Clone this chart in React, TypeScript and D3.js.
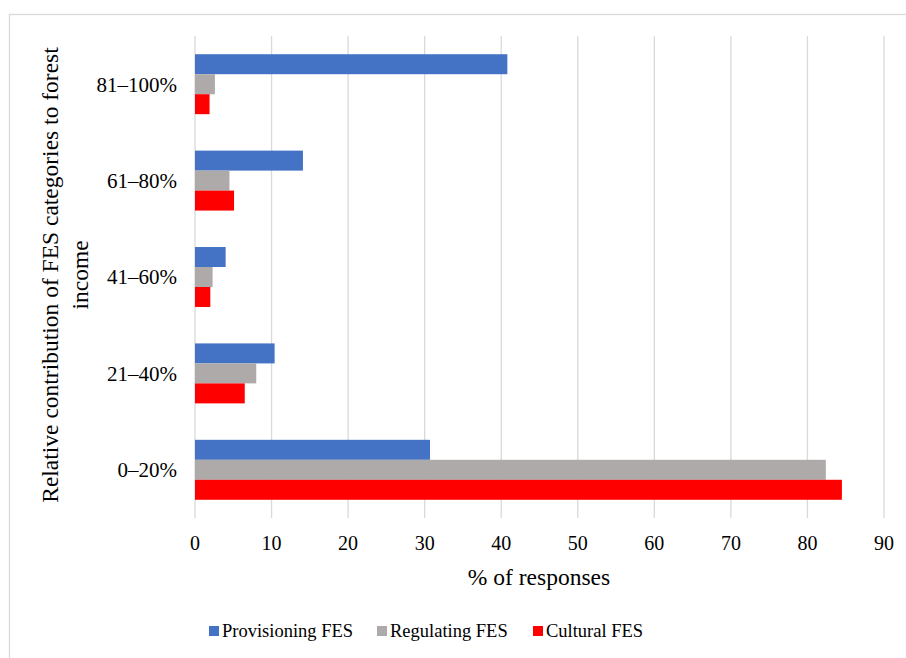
import React from 'react';
import * as d3 from 'd3';

const categories = ['81–100%', '61–80%', '41–60%', '21–40%', '0–20%'];
const provisioning = [40.8, 14.1, 4.0, 10.4, 30.7];
const regulating = [2.6, 4.5, 2.3, 8.0, 82.4];
const cultural = [1.9, 5.1, 2.0, 6.5, 84.5];
const seriesNames = ['Provisioning FES', 'Regulating FES', 'Cultural FES'];
const seriesColors = ['#4472C4', '#AEAAAA', '#FF0000'];
const xTicks = [0, 10, 20, 30, 40, 50, 60, 70, 80, 90];

const FONT = "'Liberation Serif', 'Times New Roman', 'Noto Serif', 'FreeSerif', Times, serif";

const App = () => {
  const ref = React.useRef<SVGSVGElement>(null);

  React.useEffect(() => {
    const svg = d3.select(ref.current);
    svg.selectAll('*').remove();

    const W = 906;
    const H = 658;
    svg.attr('width', W).attr('height', H).style('font-family', FONT);

    svg.append('rect').attr('width', W).attr('height', H).attr('fill', '#fff');

    // chart frame
    svg
      .append('rect')
      .attr('x', 9.5)
      .attr('y', 14.5)
      .attr('width', W + 10)
      .attr('height', H + 10)
      .attr('fill', 'none')
      .attr('stroke', '#d9d9d9')
      .attr('stroke-width', 1.3);

    const x = d3.scaleLinear().domain([0, 90]).range([195, 884]);
    const y = d3
      .scaleBand()
      .domain(categories)
      .range([36, 518])
      .paddingInner(0.378)
      .paddingOuter(0.189);
    const inner = d3.scaleBand().domain(seriesNames).range([0, y.bandwidth()]);

    // gridlines
    svg
      .append('g')
      .selectAll('line')
      .data(xTicks)
      .join('line')
      .attr('x1', (d) => x(d))
      .attr('x2', (d) => x(d))
      .attr('y1', 36)
      .attr('y2', 518)
      .attr('stroke', '#d9d9d9')
      .attr('stroke-width', 1.3);

    const series = [provisioning, regulating, cultural];
    const rows = categories.flatMap((c, i) =>
      series.map((s, k) => ({ cat: c, name: seriesNames[k], value: s[i], color: seriesColors[k] }))
    );

    svg
      .append('g')
      .selectAll('rect')
      .data(rows)
      .join('rect')
      .attr('x', x(0))
      .attr('y', (d) => (y(d.cat) as number) + (inner(d.name) as number))
      .attr('width', (d) => x(d.value) - x(0))
      .attr('height', inner.bandwidth())
      .attr('fill', (d) => d.color);

    const txt = (sel: any, size: number) =>
      sel.style('font-family', FONT).style('font-size', `${size}px`).attr('fill', '#000');

    // x tick labels
    svg
      .append('g')
      .selectAll('text')
      .data(xTicks)
      .join('text')
      .attr('x', (d) => x(d))
      .attr('y', 543)
      .attr('dy', '0.35em')
      .attr('text-anchor', 'middle')
      .call(txt, 20)
      .text((d) => d);

    // category labels
    svg
      .append('g')
      .selectAll('text')
      .data(categories)
      .join('text')
      .attr('x', 177)
      .attr('y', (d) => (y(d) as number) + y.bandwidth() / 2)
      .attr('dy', '0.35em')
      .attr('text-anchor', 'end')
      .call(txt, 21)
      .text((d) => d);

    // axis titles
    svg
      .append('text')
      .attr('x', 539)
      .attr('y', 577)
      .attr('dy', '0.35em')
      .attr('text-anchor', 'middle')
      .call(txt, 23.5)
      .text('% of responses');

    const yTitle = svg
      .append('text')
      .attr('transform', 'translate(50,275) rotate(-90)')
      .attr('text-anchor', 'middle')
      .call(txt, 23.5);
    yTitle
      .append('tspan')
      .attr('x', 0)
      .attr('dy', '0.35em')
      .text('Relative contribution of FES categories to forest');
    yTitle.append('tspan').attr('x', 0).attr('dy', 30).text('income');

    // legend
    const legendX = [209, 377, 533];
    const lg = svg
      .append('g')
      .selectAll('g')
      .data(seriesNames)
      .join('g')
      .attr('transform', (d, i) => `translate(${legendX[i]},631)`);
    lg.append('rect')
      .attr('x', 0)
      .attr('y', -5)
      .attr('width', 10)
      .attr('height', 10)
      .attr('fill', (d, i) => seriesColors[i]);
    lg.append('text')
      .attr('x', 13)
      .attr('dy', '0.35em')
      .call(txt, 18.5)
      .text((d) => d);
  }, []);

  return <svg ref={ref} style={{ position: 'absolute', left: 0, top: 0 }}></svg>;
};

export default App;
